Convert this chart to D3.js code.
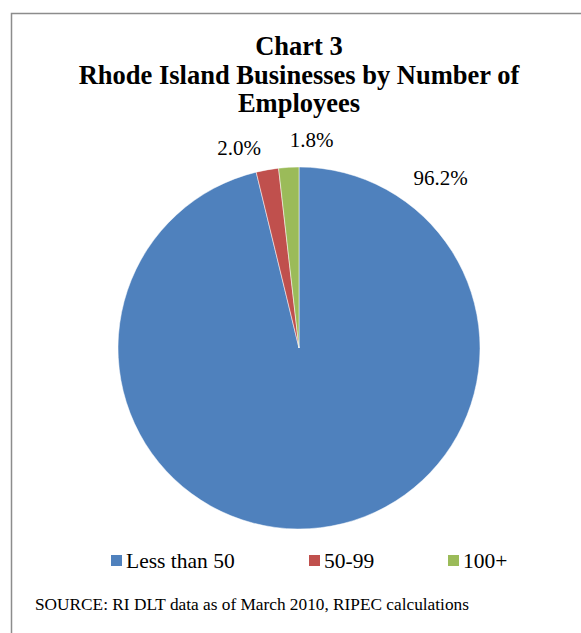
<!DOCTYPE html>
<html>
<head>
<meta charset="utf-8">
<script src="https://cdn.jsdelivr.net/npm/d3@7"></script>
<style>
  body { margin: 0; background: #fff; }
  svg { display: block; font-family: "Liberation Serif", "Times New Roman", serif; }
</style>
</head>
<body>
<svg id="chart" width="581" height="633"></svg>
<script>
// chart data
const categories = ['Less than 50', '50-99', '100+'];
const shares = [96.2, 2.0, 1.8];
const labels = ['96.2%', '2.0%', '1.8%'];
const colors = ['#4F81BD', '#C0504D', '#9BBB59'];
const titleLines = ['Chart 3', 'Rhode Island Businesses by Number of', 'Employees'];
const sourceText = 'SOURCE: RI DLT data as of March 2010, RIPEC calculations';

const svg = d3.select('#chart');

// frame (only top and left edges show in the shot)
svg.append('path')
  .attr('d', 'M11.5,633 L11.5,13.5 L581,13.5')
  .attr('fill', 'none')
  .attr('stroke', '#8c8c8c')
  .attr('stroke-width', 1.5);

// title
svg.append('text')
  .attr('x', 299)
  .attr('y', 55)
  .attr('text-anchor', 'middle')
  .attr('font-weight', 'bold')
  .attr('font-size', 26.5)
  .selectAll('tspan')
  .data(titleLines)
  .join('tspan')
  .attr('x', 299)
  .attr('dy', (d, i) => i === 0 ? 0 : 28.5)
  .text(d => d);

// pie
const cx = 299, cy = 348, r = 181;
const pie = d3.pie().sort(null).value(d => d);
const arc = d3.arc().innerRadius(0).outerRadius(r);
const arcs = pie(shares);

const g = svg.append('g').attr('transform', `translate(${cx},${cy})`);
g.selectAll('path')
  .data(arcs)
  .join('path')
  .attr('d', arc)
  .attr('fill', (d, i) => colors[i])
  .attr('stroke', '#fff')
  .attr('stroke-width', 0.5);

// data labels sit outside the slices, nudged like Excel does
const labelPos = [[141.5, -163], [-60, -193], [12.5, -201.5]];
g.selectAll('text.lbl')
  .data(arcs)
  .join('text')
  .attr('class', 'lbl')
  .attr('font-size', 21)
  .attr('text-anchor', 'middle')
  .attr('x', (d, i) => labelPos[i][0])
  .attr('y', (d, i) => labelPos[i][1])
  .text((d, i) => labels[i]);

// legend
const legendX = [111, 309, 448];
const legend = svg.append('g');
categories.forEach((c, i) => {
  legend.append('rect')
    .attr('x', legendX[i])
    .attr('y', 555)
    .attr('width', 11)
    .attr('height', 11)
    .attr('fill', colors[i]);
  legend.append('text')
    .attr('x', legendX[i] + 15)
    .attr('y', 567.5)
    .attr('font-size', 21.5)
    .text(c);
});

// source note
svg.append('text')
  .attr('x', 35)
  .attr('y', 610)
  .attr('font-size', 17.3)
  .text(sourceText);
</script>
</body>
</html>
